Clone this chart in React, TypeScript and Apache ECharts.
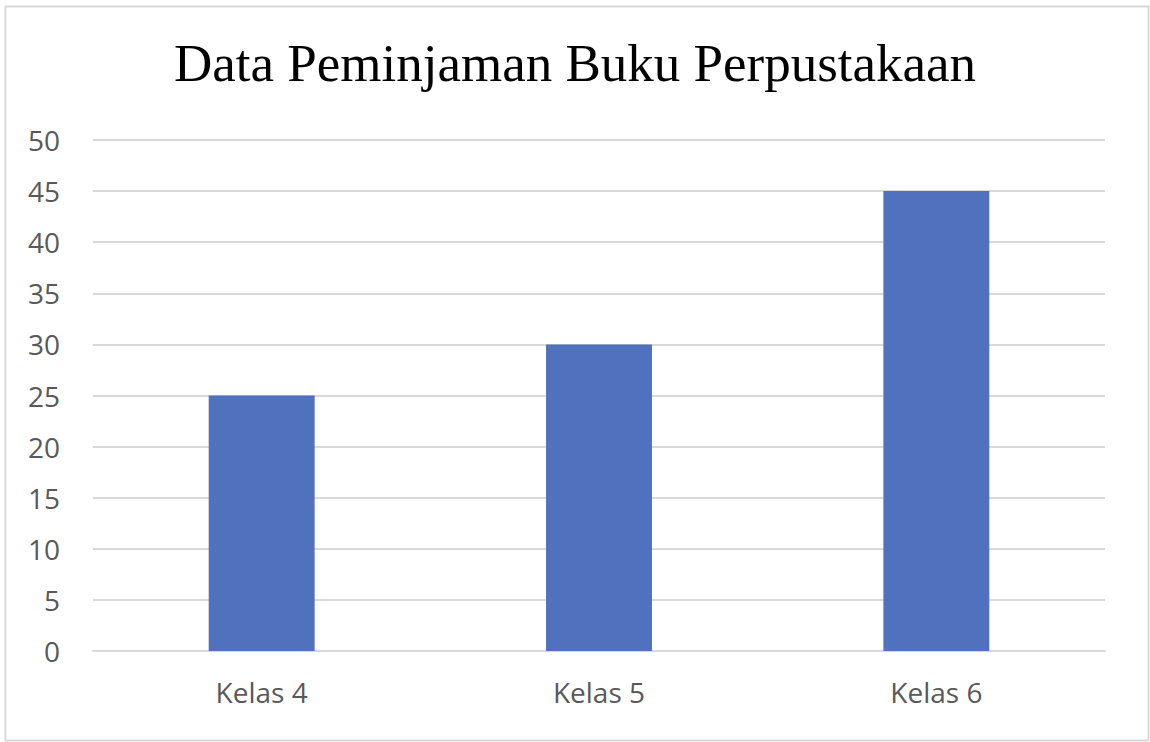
import { useEffect, useRef } from "react";
import * as echarts from "echarts";

const categories = ["Kelas 4", "Kelas 5", "Kelas 6"];
const values = [25, 30, 45];

const TITLE = "Data Peminjaman Buku Perpustakaan";
const BAR_COLOR = "#5071BE";
const LABEL_COLOR = "#595959";
const GRID_COLOR = "#D9D9D9";

function buildOption(): echarts.EChartsOption {
  return {
    animation: false,
    backgroundColor: "#ffffff",
    title: {
      text: TITLE,
      left: "center",
      top: 31,
      textStyle: {
        fontFamily: "'Liberation Serif', 'DejaVu Serif', serif",
        fontWeight: "normal",
        fontSize: 53,
        color: "#000000",
      },
    },
    // thin grey frame around the whole chart
    graphic: [
      {
        type: "rect",
        left: 3,
        top: 4,
        shape: { width: 1143, height: 734 },
        style: { fill: "none", stroke: GRID_COLOR, lineWidth: 2 },
        silent: true,
      },
    ],
    grid: { left: 93, right: 45, top: 140, bottom: 91, containLabel: false },
    xAxis: {
      type: "category",
      data: categories,
      axisTick: { show: false },
      axisLine: { lineStyle: { color: GRID_COLOR, width: 2 } },
      axisLabel: {
        color: LABEL_COLOR,
        fontFamily: "'Open Sans', sans-serif",
        fontSize: 28,
        margin: 27,
      },
    },
    yAxis: {
      type: "value",
      min: 0,
      max: 50,
      interval: 5,
      axisLine: { show: false },
      axisTick: { show: false },
      splitLine: { lineStyle: { color: GRID_COLOR, width: 2 } },
      axisLabel: {
        color: LABEL_COLOR,
        fontFamily: "'Open Sans', sans-serif",
        fontSize: 28,
        margin: 33,
      },
    },
    series: [
      {
        type: "bar",
        data: values,
        barWidth: "31.4%",
        itemStyle: { color: BAR_COLOR },
      },
    ],
  };
}

export default function App() {
  const ref = useRef<HTMLDivElement | null>(null);

  useEffect(() => {
    document.body.style.margin = "0";
    const el = ref.current;
    if (!el) return;
    const chart = echarts.init(el, undefined, { renderer: "svg" });
    chart.setOption(buildOption());
    return () => {
      chart.dispose();
    };
  }, []);

  return <div ref={ref} style={{ width: 1150, height: 742 }} />;
}
